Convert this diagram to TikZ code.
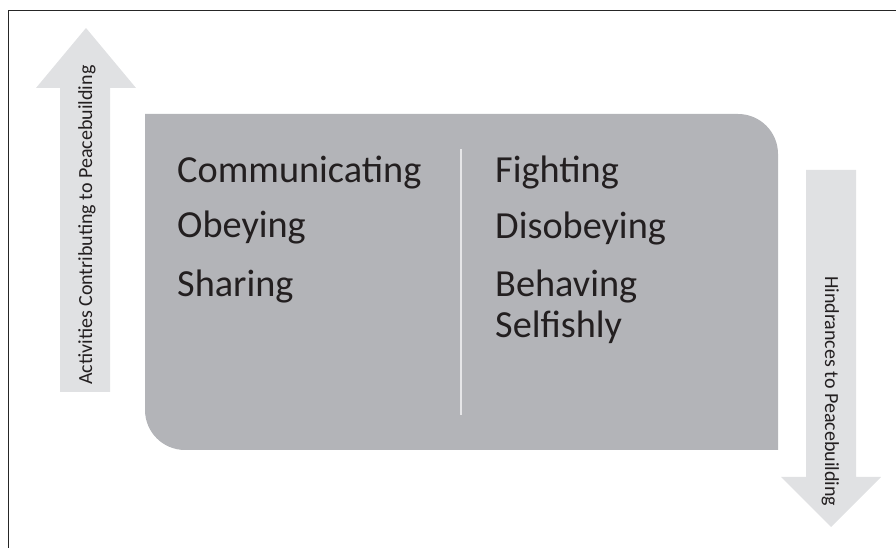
\documentclass[tikz,border=0pt]{standalone}
\usepackage{fontspec}
\setmainfont{Carlito}
\definecolor{panelgray}{HTML}{B3B4B8}
\definecolor{arrowgray}{HTML}{E0E1E3}
\definecolor{rulegray}{HTML}{E6E6E8}
\definecolor{inkdark}{HTML}{231F20}
\tikzset{
  x=1pt, y=1pt,
  item/.style={anchor=base west, inner sep=0pt, text=inkdark,
    font=\fontsize{38.3}{40}\selectfont},
  sidelabel/.style={anchor=base west, inner sep=0pt, text=inkdark,
    font=\fontsize{20}{22}\selectfont},
}
\begin{document}
\begin{tikzpicture}
\useasboundingbox (0,0) rectangle (896,548);
% frame (left and top edges)
\draw[line width=1.5pt, black!85] (8.5,0) -- (8.5,537.5) -- (896,537.5);

% upward arrow
\fill[arrowgray] (60,156) -- (110,156) -- (110,460) -- (136,460) -- (86,520)
  -- (36,460) -- (60,460) -- cycle;
% downward arrow
\fill[arrowgray] (806,378) -- (856,378) -- (856,71) -- (881,71) -- (831,21)
  -- (781,71) -- (806,71) -- cycle;

% central panel
\fill[panelgray] (145,434) -- (738,434) arc[start angle=90, end angle=0, radius=40]
  -- (778,98) -- (185,98) arc[start angle=270, end angle=180, radius=40] -- cycle;
\draw[rulegray, line width=2pt] (461,399) -- (461,133);

% left column
\node[item] (comm) at (177,365) {Communicating};
\node[item] (obey) at (177,310) {Obeying};
\node[item] (share) at (177,251) {Sharing};
% right column
\node[item] (fight) at (495,365) {Fighting};
\node[item] (disobey) at (495,309) {Disobeying};
\node[item] (behave) at (495,251) {Behaving};
\node[item] (selfish) at (495,210) {Selfishly};

% arrow labels
\node[sidelabel, rotate=90] (uplabel) at (92,163) {Activities Contributing to Peacebuilding};
\node[sidelabel, rotate=-90] (downlabel) at (825,272) {Hindrances to Peacebuilding};
\end{tikzpicture}
\end{document}
